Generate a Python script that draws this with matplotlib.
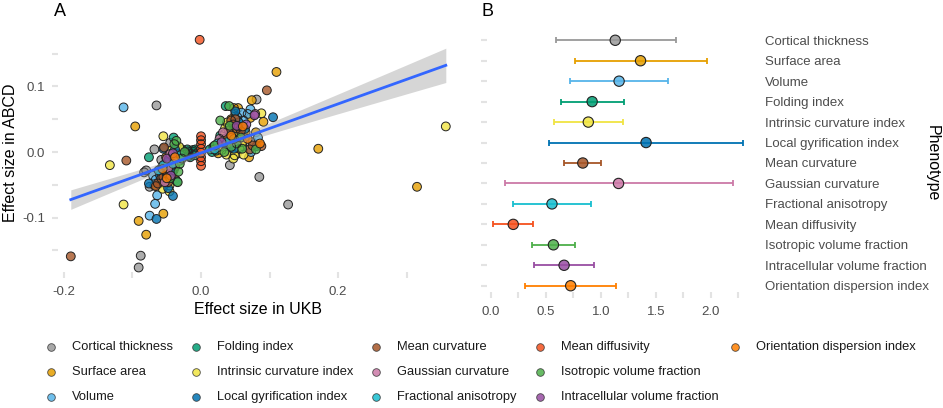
import numpy as np
import matplotlib
matplotlib.use("Agg")
import matplotlib.pyplot as plt
from matplotlib.lines import Line2D
from matplotlib.ticker import FixedLocator

plt.rcParams['font.family'] = ['Liberation Sans', 'DejaVu Sans']

phenotypes = ["Cortical thickness", "Surface area", "Volume", "Folding index",
              "Intrinsic curvature index", "Local gyrification index", "Mean curvature",
              "Gaussian curvature", "Fractional anisotropy", "Mean diffusivity",
              "Isotropic volume fraction", "Intracellular volume fraction",
              "Orientation dispersion index"]

colors = ["#999999", "#E69F00", "#56B4E9", "#009E73", "#F0E442", "#0072B2", "#A65628",
          "#CC79A7", "#17BECF", "#F4511E", "#4DAF4A", "#984EA3", "#FF7F00"]

# Panel A: effect sizes (UKB x, ABCD y) per phenotype
ukb_ct = [-0.065, 0.081, 0.085, 0.127, -0.088, -0.091, -0.068, -0.083, -0.075, 0.064, 0.042, -0.080, 0.057,
          -0.058, -0.045, 0.052, 0.075, 0.030]
abcd_ct = [0.071, 0.080, -0.038, -0.080, -0.158, -0.176, 0.004, -0.031, -0.053, 0.023, -0.020, -0.028, 0.027,
           -0.012, 0.014, 0.030, 0.015, 0.010]
ukb_sa = [0.110, 0.074, -0.096, 0.171, 0.315, -0.091, -0.080, -0.055, 0.054, 0.048, 0.072, 0.091, 0.039, 0.057,
          0.052, 0.070, -0.051, -0.060, -0.068, -0.047, -0.038, -0.052, -0.030, 0.044, 0.060, 0.040, 0.065,
          0.025, 0.050, 0.080]
abcd_sa = [0.122, 0.079, 0.039, 0.005, -0.053, -0.105, -0.126, -0.094, 0.067, 0.067, 0.052, 0.046, 0.041, 0.025,
           -0.003, -0.008, -0.008, -0.048, -0.051, -0.030, -0.015, -0.040, 0.002, 0.050, 0.010, 0.018, 0.030,
           -0.002, 0.058, 0.030]
ukb_vol = [-0.113, -0.075, -0.067, -0.064, -0.070, 0.059, 0.053, 0.072, 0.083, 0.073, -0.031, -0.058,
           -0.052, -0.040, -0.066, 0.045, 0.062, 0.036, 0.068]
abcd_vol = [0.068, -0.097, -0.079, -0.066, -0.036, 0.060, 0.053, 0.065, 0.022, 0.000, -0.013, -0.025,
            -0.018, -0.006, -0.042, 0.030, 0.048, 0.005, 0.058]
ukb_fi = [-0.040, -0.076, -0.019, -0.014, -0.009, -0.012, -0.022, 0.036, 0.018, 0.013, 0.032, 0.022, -0.016,
          -0.028, -0.025, -0.018, -0.011, -0.006, -0.008, -0.020, -0.044, -0.036, -0.050,
          0.025, 0.030, 0.040, 0.016, 0.028, 0.045]
abcd_fi = [0.022, -0.008, 0.001, -0.003, -0.005, 0.003, -0.004, 0.070, 0.008, 0.004, 0.013, 0.002, -0.008,
           0.004, -0.002, -0.006, 0.000, -0.002, 0.004, 0.004, -0.010, 0.010, -0.032,
           0.006, 0.018, 0.002, 0.000, 0.025, 0.015]
ukb_ici = [0.357, -0.133, -0.113, -0.055, -0.032, -0.035, -0.043, -0.038, -0.046, -0.056, 0.088, 0.035, 0.035,
           0.030, 0.037, 0.047, 0.056, 0.049, -0.043, -0.049, -0.040, -0.052, -0.044, -0.037, -0.058, -0.046,
           0.040, 0.050, 0.043, 0.027, 0.060, 0.038, 0.062]
abcd_ici = [0.039, -0.020, -0.080, 0.024, 0.008, -0.003, -0.033, -0.023, -0.051, -0.056, 0.059, 0.036, 0.028,
            0.003, -0.004, -0.010, 0.005, -0.005, -0.038, -0.016, -0.028, -0.030, 0.002, -0.043, -0.045, -0.060,
            0.022, 0.030, 0.012, 0.008, 0.015, 0.045, -0.004]
ukb_lgi = [-0.065, -0.041, 0.105, -0.055, -0.047, -0.051, -0.076, 0.050, 0.042, 0.081, -0.030,
           -0.042, -0.038, -0.060, -0.048, 0.055, 0.035, 0.064, 0.048]
abcd_lgi = [-0.102, -0.067, 0.053, 0.005, -0.011, -0.023, -0.048, 0.062, 0.028, 0.009, -0.008,
            -0.030, 0.004, -0.035, -0.055, 0.045, 0.012, 0.035, 0.005]
ukb_mc = [0.096, -0.109, -0.190, -0.054, -0.055, -0.048, -0.063, -0.038, 0.044, 0.052, 0.047, 0.071, 0.088, 0.054,
          -0.050, -0.058, -0.043, -0.066, 0.050, 0.040, 0.058, 0.034, 0.075]
abcd_mc = [0.094, -0.013, -0.159, 0.007, -0.038, -0.046, -0.048, -0.041, 0.048, 0.036, 0.042, 0.004, 0.009, 0.039,
           -0.034, -0.040, -0.020, -0.052, 0.050, 0.033, 0.032, 0.020, 0.010]
ukb_gc = [-0.053, 0.027, 0.079, -0.045, -0.048, -0.040, 0.032, 0.045]
abcd_gc = [-0.046, 0.020, 0.058, -0.003, -0.025, -0.010, 0.030, 0.022]
ukb_fa = [-0.062, -0.041, 0.024, -0.035, -0.055, -0.030, 0.038, 0.020]
abcd_fa = [-0.028, -0.018, 0.013, -0.045, -0.020, -0.005, 0.015, 0.004]
ukb_md = [-0.002, 0.0, 0.0, 0.0, 0.0, 0.0, 0.0, 0.0, 0.0]
abcd_md = [0.171, 0.024, 0.018, 0.012, 0.005, -0.001, -0.008, -0.014, -0.021]
ukb_ivf = [-0.036, -0.024, -0.031, -0.034, 0.041, 0.028, 0.020, 0.044, 0.052, 0.080,
           -0.045, -0.033, -0.039, -0.028, 0.034, 0.048, 0.058, 0.060, 0.042]
abcd_ivf = [0.017, 0.000, -0.018, -0.046, 0.070, 0.048, 0.010, 0.008, 0.013, 0.004,
            -0.040, -0.030, 0.012, -0.010, 0.000, 0.020, 0.022, 0.005, 0.040]
ukb_icvf = [-0.041, 0.078, 0.066, -0.050, -0.044, 0.052, 0.030]
abcd_icvf = [-0.002, 0.056, 0.042, -0.010, -0.036, 0.040, 0.015]
ukb_odi = [0.086, 0.061, -0.050, -0.038, -0.056, 0.044, 0.068]
abcd_odi = [0.013, 0.039, -0.040, -0.008, -0.026, 0.025, 0.020]

ukb_all = [ukb_ct, ukb_sa, ukb_vol, ukb_fi, ukb_ici, ukb_lgi, ukb_mc, ukb_gc, ukb_fa, ukb_md, ukb_ivf, ukb_icvf, ukb_odi]
abcd_all = [abcd_ct, abcd_sa, abcd_vol, abcd_fi, abcd_ici, abcd_lgi, abcd_mc, abcd_gc, abcd_fa, abcd_md, abcd_ivf, abcd_icvf, abcd_odi]

# Panel B: estimate and interval per phenotype
est = [1.13, 1.36, 1.165, 0.92, 0.885, 1.41, 0.835, 1.16, 0.555, 0.203, 0.568, 0.665, 0.725]
lo = [0.59, 0.765, 0.72, 0.64, 0.57, 0.525, 0.665, 0.124, 0.20, 0.021, 0.373, 0.388, 0.31]
hi = [1.68, 1.96, 1.61, 1.21, 1.20, 2.29, 1.005, 2.20, 0.913, 0.382, 0.762, 0.94, 1.14]

W, H = 943, 408
fig = plt.figure(figsize=(W / 100, H / 100), dpi=100)

def frac(l, t, r, b):
    return [l / W, 1 - b / H, (r - l) / W, (b - t) / H]

tick_col = "#4D4D4D"
dash_col = "#E3E3E3"

# ---------- Panel A ----------
axA = fig.add_axes(frac(52, 28, 465, 278))
for s in axA.spines.values():
    s.set_visible(False)
for xs, ys, c in zip(ukb_all, abcd_all, colors):
    axA.scatter(xs, ys, s=40, facecolor=c, alpha=0.8, edgecolor="none", zorder=2)
    axA.scatter(xs, ys, s=40, facecolor="none", edgecolor="#222222", linewidth=0.7, zorder=2)

xall = np.concatenate([np.array(v, float) for v in ukb_all])
yall = np.concatenate([np.array(v, float) for v in abcd_all])
n = len(xall)
b1, b0 = np.polyfit(xall, yall, 1)
xg = np.linspace(xall.min(), xall.max(), 200)
yg = b0 + b1 * xg
resid = yall - (b0 + b1 * xall)
s_err = np.sqrt(np.sum(resid ** 2) / (n - 2))
sxx = np.sum((xall - xall.mean()) ** 2)
se = s_err * np.sqrt(1 / n + (xg - xall.mean()) ** 2 / sxx)
tval = 1.97
axA.fill_between(xg, yg - tval * se, yg + tval * se, color="#999999", alpha=0.4, linewidth=0, zorder=3)
axA.plot(xg, yg, color="#3366FF", linewidth=2.0, zorder=4)

axA.set_xlim(-0.2174, 0.385)
axA.set_ylim(-0.192, 0.189)
axA.set_xticks([-0.2, 0.0, 0.2])
axA.set_xticklabels(["-0.2", "0.0", "0.2"])
axA.set_yticks([-0.1, 0.0, 0.1])
axA.set_yticklabels(["-0.1", "0.0", "0.1"])
axA.xaxis.set_minor_locator(FixedLocator([-0.1, 0.1, 0.3]))
axA.yaxis.set_minor_locator(FixedLocator([-0.15, -0.05, 0.05, 0.15]))
axA.tick_params(which="both", direction="in", length=4, width=1.5, color=dash_col,
                labelsize=9.5, labelcolor=tick_col)
axA.tick_params(axis="y", which="both", pad=5)
axA.tick_params(axis="x", which="both", pad=6)
axA.set_xlabel("Effect size in UKB", fontsize=11.5, labelpad=3)
fig.text(11 / W, 1 - 153 / H, "Effect size in ABCD", fontsize=11.5, rotation=90,
         va="center", ha="center")
fig.text(54 / W, 1 - 11 / H, "A", fontsize=13, va="center", ha="left")

# ---------- Panel B ----------
axB = fig.add_axes(frac(481, 28, 755, 298))
for s in axB.spines.values():
    s.set_visible(False)
ypos = np.arange(len(phenotypes))[::-1]
for i, c in enumerate(colors):
    axB.errorbar(est[i], ypos[i], xerr=[[est[i] - lo[i]], [hi[i] - est[i]]], fmt="none",
                 ecolor=c, elinewidth=1.3, capsize=2.2, capthick=1.3, zorder=2)
    axB.scatter([est[i]], [ypos[i]], s=55, facecolor=c, alpha=0.85, edgecolor="none", zorder=3)
    axB.scatter([est[i]], [ypos[i]], s=55, facecolor="none", edgecolor="#222222", linewidth=0.8, zorder=3)
axB.set_xlim(-0.09, 2.40)
axB.set_ylim(-0.6, len(phenotypes) - 0.4)
axB.set_xticks([0.0, 0.5, 1.0, 1.5, 2.0])
axB.set_xticklabels(["0.0", "0.5", "1.0", "1.5", "2.0"])
axB.xaxis.set_minor_locator(FixedLocator([0.25, 0.75, 1.25, 1.75, 2.25]))
axB.set_yticks(ypos)
axB.set_yticklabels(phenotypes)
axB.tick_params(axis="x", which="both", direction="in", length=4, width=1.5, color=dash_col,
                labelsize=9.5, labelcolor=tick_col, pad=6)
axB.tick_params(axis="y", direction="in", length=4, width=1.5, color=dash_col,
                left=True, right=False, labelleft=False, labelright=True,
                labelsize=9.5, labelcolor=tick_col, pad=7)
fig.text(932 / W, 1 - 163 / H, "Phenotype", fontsize=11.5, rotation=-90,
         va="center", ha="center")
fig.text(482 / W, 1 - 11 / H, "B", fontsize=13, va="center", ha="left")

# ---------- Legend ----------
col_x = [51, 196, 376, 540, 735]
row_y = [347, 372, 397]
for i, (name, c) in enumerate(zip(phenotypes, colors)):
    col, row = i // 3, i % 3
    mx, my = col_x[col] / W, 1 - row_y[row] / H
    fig.add_artist(Line2D([mx], [my], marker="o", markersize=5.5, markerfacecolor=c,
                          markeredgecolor="#333333", markeredgewidth=0.6, alpha=0.85,
                          linestyle="none", transform=fig.transFigure))
    fig.text(mx + 21 / W, my, name, fontsize=9.3, va="center", ha="left", color="#1A1A1A")

fig.savefig("out.png", dpi=100)
